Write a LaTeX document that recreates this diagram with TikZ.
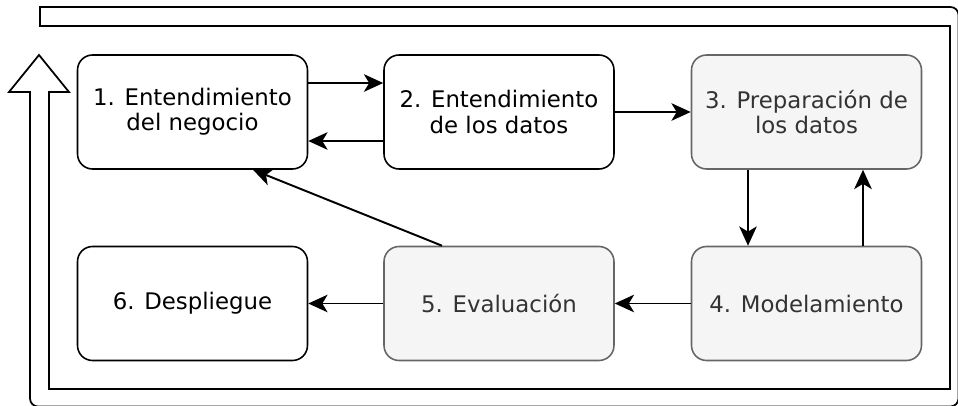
\documentclass[tikz,border=0pt]{standalone}
\usepackage{fontspec}
\setmainfont{DejaVu Sans}
\usetikzlibrary{arrows.meta}
\definecolor{boxgray}{HTML}{F5F5F5}
\definecolor{edgegray}{HTML}{666666}
\definecolor{textgray}{HTML}{333333}
\tikzset{
  stepbox/.style={draw=black, line width=0.9pt, fill=white, rounded corners=0.3cm,
    minimum width=4.6cm, minimum height=2.28cm, align=center,
    font=\fontsize{13}{14.4}\selectfont, text=black, inner sep=0pt},
  graybox/.style={stepbox, draw=edgegray, fill=boxgray, text=textgray},
  flow/.style={line width=1.1pt, -{Stealth[length=11pt,width=10pt,inset=3pt]}},
  bigarrow/.style={draw=black, line width=1pt, line join=miter}
}
\begin{document}
\begin{tikzpicture}[x=0.02cm, y=-0.02cm]
\useasboundingbox (0,0) rectangle (958,406);
% big return arrow outline
\draw[bigarrow] (40,26) -- (950,26) -- (950,389) -- (49,389) -- (49,92) -- (69,92)
  -- (39,55) -- (9,92) -- (30,92) [rounded corners=0.16cm] -- (30,406.5) -- (958.5,406.5)
  -- (958.5,7) [sharp corners] -- (40,7) -- cycle;
% boxes
\node[stepbox] (b1) at (192.5,112) {1. Entendimiento\\del negocio};
\node[stepbox] (b2) at (499,112) {2. Entendimiento\\de los datos};
\node[graybox] (b3) at (806.5,112) {3. Preparación de\\los datos};
\node[graybox] (b4) at (806.5,303.5) {4. Modelamiento};
\node[graybox] (b5) at (499,303.5) {5. Evaluación};
\node[stepbox] (b6) at (192.5,303.5) {6. Despliegue};
% connectors
\draw[flow] ([yshift=0.58cm]b1.east) -- ([yshift=0.58cm]b2.west);
\draw[flow] ([yshift=-0.58cm]b2.west) -- ([yshift=-0.58cm]b1.east);
\draw[flow] (b2.east) -- (b3.west);
\draw[flow] ([xshift=-1.17cm]b3.south) -- ([xshift=-1.17cm]b4.north);
\draw[flow] ([xshift=1.13cm]b4.north) -- ([xshift=1.13cm]b3.south);
\draw[flow] (b4.west) -- (b5.east);
\draw[flow] (b5.west) -- (b6.east);
\draw[flow] ([xshift=-1.14cm]b5.north) -- ([xshift=1.21cm]b1.south);
\end{tikzpicture}
\end{document}
